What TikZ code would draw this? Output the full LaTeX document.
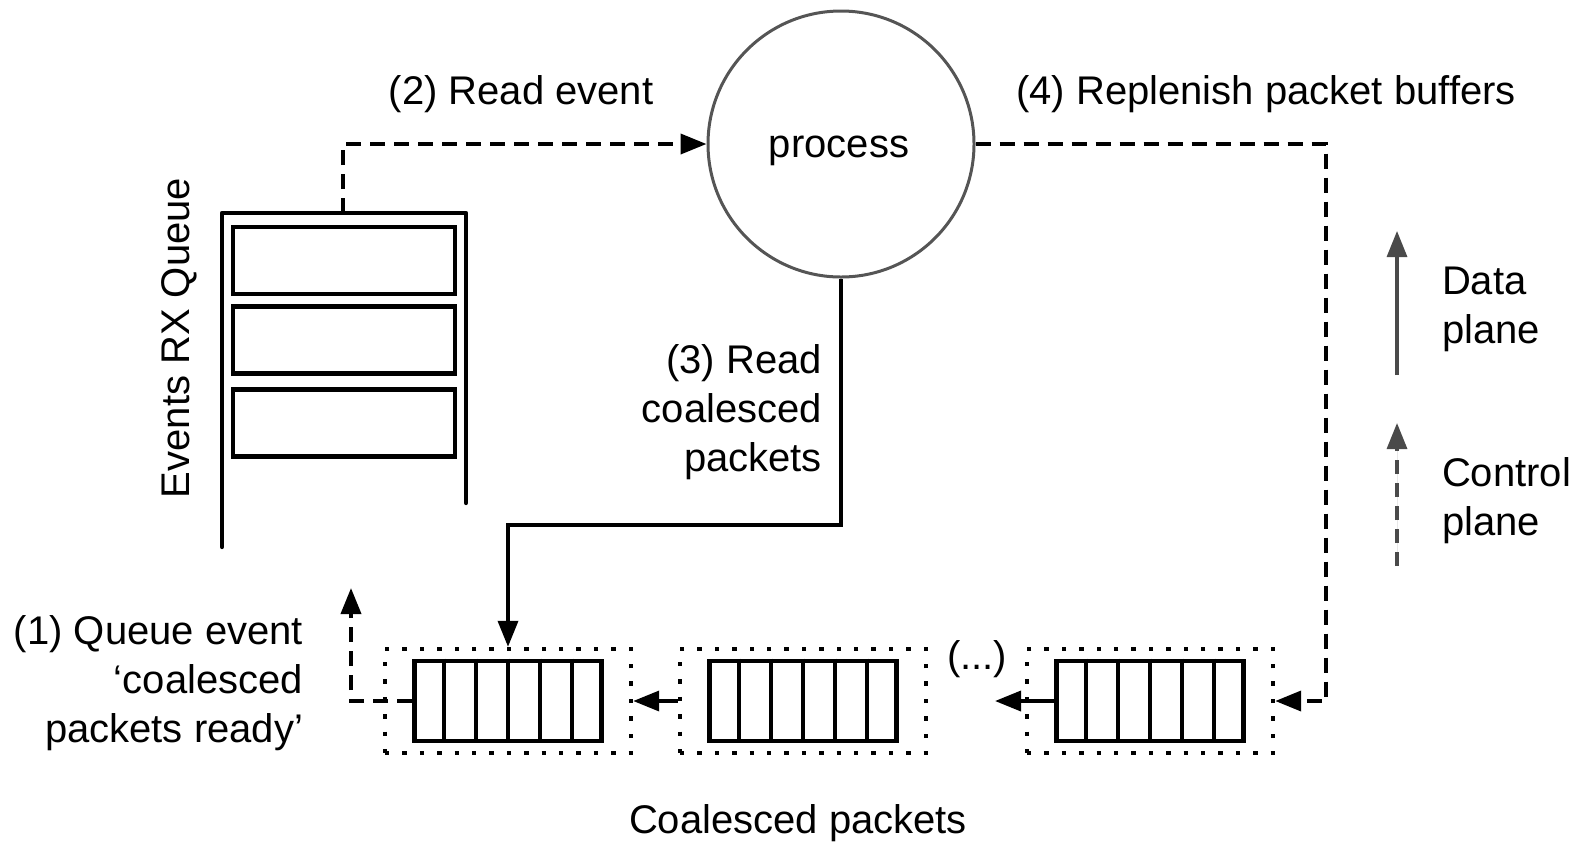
\documentclass[tikz,border=0pt]{standalone}
\usepackage{fontspec}
\setmainfont{Liberation Sans}
\usetikzlibrary{arrows.meta,calc}
\definecolor{legendgray}{HTML}{4A4A4A}
\definecolor{circlegray}{HTML}{555555}

\begin{document}
\begin{tikzpicture}[x=0.5pt,y=-0.5pt,
  lbl/.style={font=\fontsize{20}{24.5}\selectfont, inner sep=0pt, outer sep=0pt},
  tip/.style={-{Triangle[length=13pt,width=10pt]}},
  ctrl/.style={tip, line width=1.9pt, dash pattern=on 7.5pt off 4.5pt},
  data/.style={tip, line width=1.8pt},
  frame/.style={line width=2.1pt, line cap=round, line join=round},
  slot/.style={draw, line width=2.1pt, rectangle, minimum width=111pt, minimum height=33.5pt, inner sep=0pt},
  group/.style={draw, line width=2.2pt, dash pattern=on 2.2pt off 6.5pt, rectangle,
                minimum width=123pt, minimum height=52pt, inner sep=0pt},
  buffer/.style={draw, line width=2.4pt, rectangle, minimum width=93.5pt, minimum height=40pt, inner sep=0pt},
  proc/.style={circle, draw=circlegray, line width=1.5pt, minimum size=133pt, inner sep=0pt},
  legend/.style={-{Triangle[length=13pt,width=10pt]}, draw=legendgray, fill=legendgray, line width=1.6pt}
]
\useasboundingbox (0,0) rectangle (1583,842);

% events queue: open frame with three slots
\draw[frame] (222,547) -- (222,213) -- (466,213) -- (466,503);
\coordinate (qtop) at (343,213);
\node[slot] (slot1) at (344,260.5) {};
\node[slot] (slot2) at (344,340) {};
\node[slot] (slot3) at (344,423) {};
\node[lbl, rotate=90, anchor=base] (qlabel) at (189,338) {Events RX Queue};

% process
\node[proc] (proc) at (841,144) {};
\node[lbl, anchor=base] (proclabel) at (839,157) {process};

% coalesced packet groups
\foreach \g/\x in {1/508, 2/803, 3/1150}{
  \node[group] (grp\g) at (\x,701) {};
  \node[buffer] (buf\g) at (\x,701) {};
  \foreach \i in {1,...,5}{
    \draw[line width=2.4pt] ($(buf\g.north west)!\i/6!(buf\g.north east)$) --
                            ($(buf\g.south west)!\i/6!(buf\g.south east)$);
  }
}
\node[lbl, anchor=base] (dots) at (977,669) {(...)};
\node[lbl, anchor=base] (cplabel) at (798,833) {Coalesced packets};

% (1) queue event
\coordinate (ev1) at (351,588);
\draw[ctrl] (buf1.west) -| (ev1);
\node[lbl, anchor=base east, align=right] (l1) at (303,742)
  {(1) Queue event\\‘coalesced\\packets ready’};

% (2) read event
\draw[ctrl] (qtop) |- (proc.west);
\node[lbl, anchor=base] (l2) at (521,104) {(2) Read event};

% (3) read coalesced packets
\coordinate (bend3) at (508,525);
\draw[data] (proc.south) |- (bend3) -- (grp1.north);
\node[lbl, anchor=base east, align=right] (l3) at (822,471)
  {(3) Read\\coalesced\\packets};

% (4) replenish packet buffers
\coordinate (turn4) at (1326,144);
\draw[ctrl] (proc.east) -- (turn4) |- (grp3.east);
\node[lbl, anchor=base] (l4) at (1266,104) {(4) Replenish packet buffers};

% packets move from group to group
\coordinate (gap) at (995,701);
\draw[data] (buf3.west) -- (gap);
\draw[data] (grp2.west) -- (grp1.east);

% legend
\coordinate (dbot) at (1397,375);
\coordinate (dtop) at (1397,231);
\draw[legend] (dbot) -- (dtop);
\node[lbl, anchor=base west, align=left] (ldata) at (1442,343) {Data\\plane};
\coordinate (cbot) at (1397,566);
\coordinate (ctop) at (1397,423);
\draw[legend, dash pattern=on 7pt off 4.5pt] (cbot) -- (ctop);
\node[lbl, anchor=base west, align=left] (lctrl) at (1442,535) {Control\\plane};
\end{tikzpicture}
\end{document}
